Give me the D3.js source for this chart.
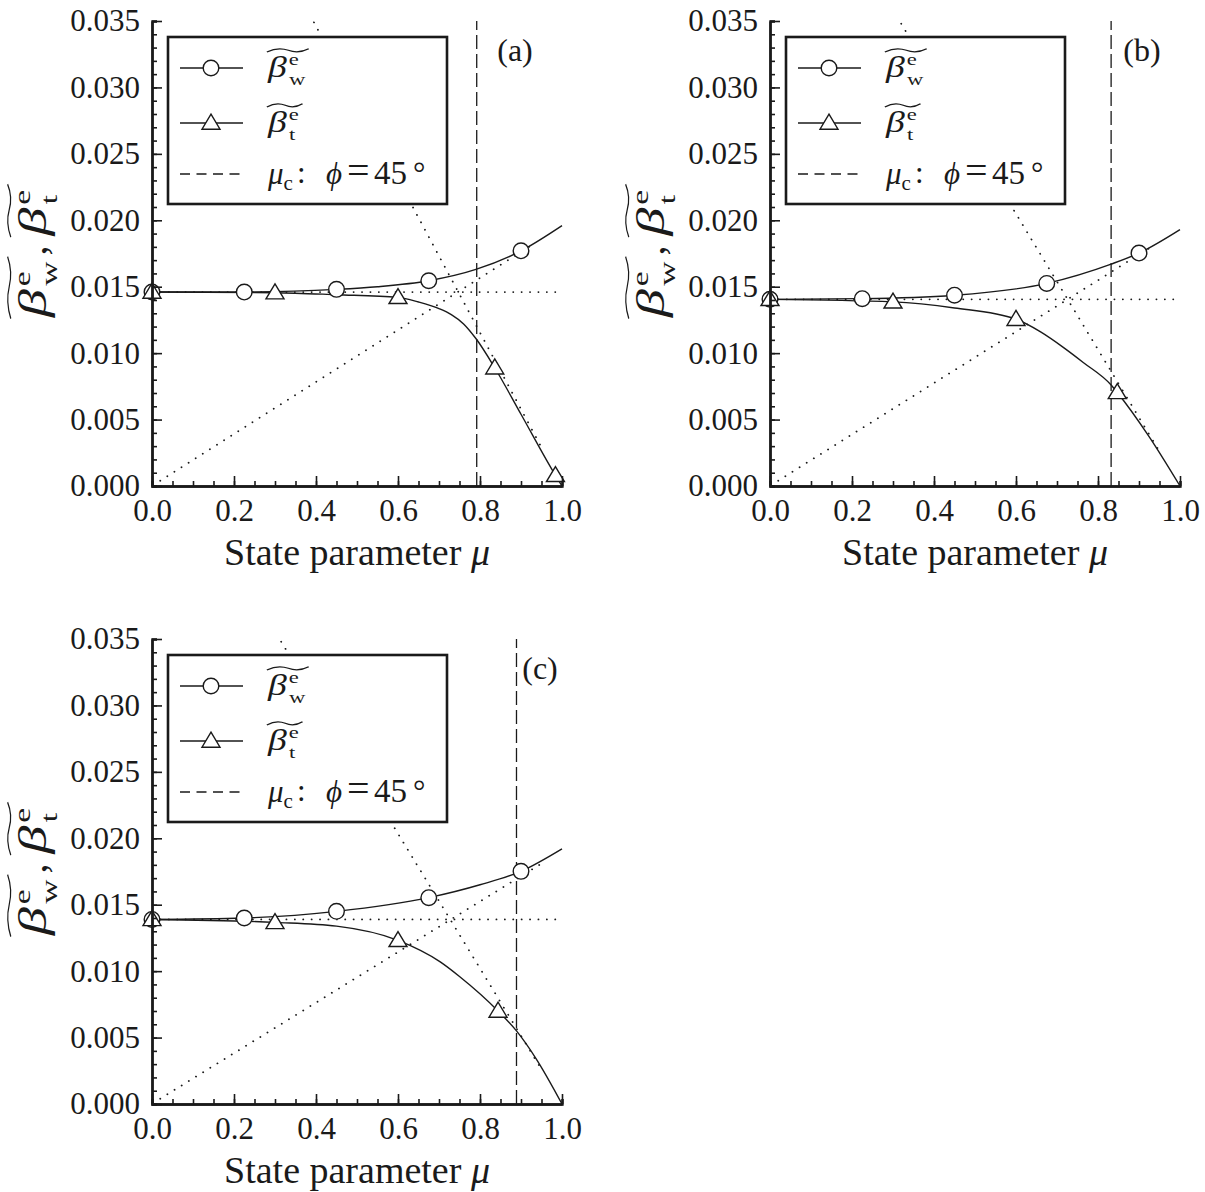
<!DOCTYPE html>
<html><head><meta charset="utf-8">
<script src="https://cdn.jsdelivr.net/npm/d3@7"></script>
<style>body{margin:0;background:#fff}</style>
</head><body>
<svg id="chart" width="1205" height="1192" xmlns="http://www.w3.org/2000/svg"></svg>
<script>
// ---------------- data ----------------
const panelLabels = ["(a)", "(b)", "(c)"];
const xTicks = [0, 0.2, 0.4, 0.6, 0.8, 1.0];
const yTicks = [0, 0.005, 0.010, 0.015, 0.020, 0.025, 0.030, 0.035];
const xTitle = "State parameter ";

const muCircle = [0, 0.225, 0.45, 0.675, 0.9];
const betaW_a = [0.0146, 0.0146, 0.0148, 0.01545, 0.0177];
const betaW_b = [0.01405, 0.0141, 0.01436, 0.01525, 0.01753];
const betaW_c = [0.01389, 0.0140, 0.0145, 0.01553, 0.01751];

const muTri_a = [0, 0.3, 0.6, 0.836, 0.984];
const betaT_a = [0.0146, 0.01455, 0.0142, 0.0089, 0.0008];
const muTri_b = [0, 0.3, 0.6, 0.847];
const betaT_b = [0.01405, 0.01386, 0.01255, 0.00704];
const muTri_c = [0, 0.3, 0.6, 0.844];
const betaT_c = [0.01389, 0.01367, 0.01232, 0.0070];

// smooth curves
const curveMuW_a = [0, 0.225, 0.45, 0.55, 0.675, 0.79, 0.9, 1.0];
const curveW_a   = [0.0146, 0.0146, 0.0148, 0.0150, 0.01545, 0.0163, 0.0177, 0.0196];
const curveMuW_b = [0, 0.225, 0.45, 0.675, 0.832, 0.9, 1.0];
const curveW_b   = [0.01405, 0.0141, 0.01436, 0.01525, 0.0167, 0.01753, 0.0193];
const curveMuW_c = [0, 0.225, 0.45, 0.675, 0.8, 0.9, 1.0];
const curveW_c   = [0.01389, 0.0140, 0.0145, 0.01553, 0.0165, 0.01751, 0.0192];

const curveMuT_a = [0, 0.3, 0.45, 0.6, 0.65, 0.7, 0.73, 0.76, 0.79, 0.836, 0.9, 0.984, 1.0];
const curveT_a   = [0.0146, 0.01455, 0.0144, 0.0142, 0.01385, 0.01335, 0.0129, 0.0122, 0.0111, 0.0089, 0.0054, 0.0008, 0.0];
const curveMuT_b = [0, 0.3, 0.45, 0.6, 0.66, 0.717, 0.764, 0.832, 0.847, 0.925, 1.0];
const curveT_b   = [0.01405, 0.01386, 0.0134, 0.01255, 0.0116, 0.0104, 0.0093, 0.0076, 0.00704, 0.0037, 0.0];
const curveMuT_c = [0, 0.3, 0.45, 0.6, 0.703, 0.75, 0.844, 0.889, 0.937, 1.0];
const curveT_c   = [0.01389, 0.01367, 0.01339, 0.01232, 0.0107, 0.0096, 0.0070, 0.0055, 0.0034, 0.0];

// dotted guide lines
const beta0 = [0.0146, 0.01405, 0.01389];
const riseLine_a = [[0.02, 0.0004], [0.93, 0.0182]];
const riseLine_b = [[0.02, 0.0004], [0.93, 0.0180]];
const riseLine_c = [[0.02, 0.0004], [0.95, 0.0181]];
const fallLine_a = [[0.395, 0.0349], [0.95, 0.0029]];
const fallLine_b = [[0.32, 0.0348], [0.95, 0.0026]];
const fallLine_c = [[0.315, 0.0348], [0.95, 0.0026]];
// critical state parameter (dashed)
const muC = [0.792, 0.832, 0.889];

// ---------------- drawing ----------------
const zip = (a, b) => a.map((v, i) => [v, b[i]]);
const panels = [
  {W: zip(muCircle, betaW_a), T: zip(muTri_a, betaT_a), cW: zip(curveMuW_a, curveW_a), cT: zip(curveMuT_a, curveT_a), rise: riseLine_a, fall: fallLine_a},
  {W: zip(muCircle, betaW_b), T: zip(muTri_b, betaT_b), cW: zip(curveMuW_b, curveW_b), cT: zip(curveMuT_b, curveT_b), rise: riseLine_b, fall: fallLine_b},
  {W: zip(muCircle, betaW_c), T: zip(muTri_c, betaT_c), cW: zip(curveMuW_c, curveW_c), cT: zip(curveMuT_c, curveT_c), rise: riseLine_c, fall: fallLine_c}
];
const layout = [
  {left: 152, bottom: 486, labelX: 515},
  {left: 770, bottom: 486, labelX: 1142},
  {left: 152, bottom: 1104, labelX: 540}
];
const PW = 410, PH = 465;
const FONT = "'Liberation Serif', 'Times New Roman', serif";
const INK = "#1a1a1a";

const svg = d3.select("#chart");

// beta with tilde, superscript e and subscript sub; baseline at (x,y); horizontally stretched by sx
function betaLabel(g, x, y, sub, fs, sx) {
  const gg = g.append("g").attr("transform", `translate(${x},${y}) scale(${sx},1)`);
  const t = gg.append("text").attr("x", 0).attr("y", 0)
    .attr("font-family", FONT).attr("font-size", fs).attr("fill", INK);
  t.append("tspan").attr("font-style", "italic").text("β");
  const bw = t.node().getComputedTextLength();
  const sfs = fs * 0.6;
  const ox = bw + fs * 0.05;
  t.append("tspan").attr("x", ox).attr("y", -fs * 0.41).attr("font-size", sfs).text("e");
  t.append("tspan").attr("x", ox + fs * 0.01).attr("y", fs * 0.28).attr("font-size", sfs).text(sub);
  const tw = ox + Math.max(sfs * 0.72 * (sub === "w" ? 1 : 0.62), sfs * 0.44) + fs * 0.1;
  const y0 = -fs * 0.92;
  gg.append("path")
    .attr("d", `M${-fs * 0.03},${y0 + 1.6} Q${tw * 0.25},${y0 - 3.6} ${tw * 0.5},${y0} T${tw},${y0 - 1.6}`)
    .attr("fill", "none").attr("stroke", INK).attr("stroke-width", 1.2);
  return tw * sx;
}

panels.forEach((p, i) => {
  const L = layout[i];
  const g = svg.append("g").attr("transform", `translate(${L.left},${L.bottom - PH})`);
  const x = d3.scaleLinear().domain([0, 1]).range([0, PW]);
  const y = d3.scaleLinear().domain([0, 0.035]).range([PH, 0]);

  // dotted guides
  const dotted = sel => sel.attr("fill", "none").attr("stroke", INK).attr("stroke-width", 1.8)
    .attr("stroke-linecap", "round").attr("stroke-dasharray", "0.1,8.3");
  const ln = d3.line().x(d => x(d[0])).y(d => y(d[1]));
  g.append("path").attr("d", ln([[0, beta0[i]], [1, beta0[i]]])).call(dotted);
  g.append("path").attr("d", ln(p.rise)).call(dotted);
  g.append("path").attr("d", ln(p.fall)).call(dotted);

  // dashed critical line
  g.append("path").attr("d", ln([[muC[i], 0], [muC[i], 0.035]]))
    .attr("stroke", INK).attr("stroke-width", 1.3).attr("stroke-dasharray", "14,5").attr("fill", "none");

  // curves
  const cl = d3.line().x(d => x(d[0])).y(d => y(d[1])).curve(d3.curveMonotoneX);
  g.append("path").attr("d", cl(p.cW)).attr("fill", "none").attr("stroke", INK).attr("stroke-width", 1.4);
  g.append("path").attr("d", cl(p.cT)).attr("fill", "none").attr("stroke", INK).attr("stroke-width", 1.4);

  // markers
  g.selectAll(".cw").data(p.W).join("circle")
    .attr("cx", d => x(d[0])).attr("cy", d => y(d[1])).attr("r", 7.8)
    .attr("fill", "#fff").attr("stroke", INK).attr("stroke-width", 1.4);
  const tri = "M0,-8.8L9,6.2L-9,6.2Z";
  g.selectAll(".tt").data(p.T).join("path")
    .attr("d", tri).attr("transform", d => `translate(${x(d[0])},${y(d[1])})`)
    .attr("fill", "#fff").attr("stroke", INK).attr("stroke-width", 1.4);

  // axes
  const styleAxis = ax => {
    ax.select(".domain").attr("stroke", INK).attr("stroke-width", 2.4);
    ax.selectAll(".tick line").attr("stroke", INK).attr("stroke-width", 1.6);
    ax.selectAll("text").attr("font-family", FONT).attr("font-size", 31).attr("fill", INK);
  };
  const gx = g.append("g").attr("transform", `translate(0,${PH})`);
  gx.append("g").call(d3.axisBottom(x).tickValues(d3.range(0, 1.0001, 0.05)).tickSize(-5).tickFormat("")).call(styleAxis);
  gx.append("g").call(d3.axisBottom(x).tickValues(xTicks).tickSizeInner(-10).tickSizeOuter(0).tickPadding(13).tickFormat(d3.format(".1f"))).call(styleAxis);
  const gy = g.append("g");
  gy.append("g").call(d3.axisLeft(y).tickValues(d3.range(0, 0.03501, 0.001)).tickSize(-5).tickFormat("")).call(styleAxis);
  gy.append("g").call(d3.axisLeft(y).tickValues(yTicks).tickSizeInner(-10).tickSizeOuter(0).tickPadding(12).tickFormat(d3.format(".3f"))).call(styleAxis);

  // x title
  const xt = g.append("text").attr("x", PW / 2).attr("y", PH + 79).attr("text-anchor", "middle")
    .attr("font-family", FONT).attr("font-size", 38).attr("fill", INK);
  xt.append("tspan").text(xTitle);
  xt.append("tspan").attr("font-style", "italic").text("μ");

  // y title (rotated)
  const yt = g.append("g").attr("transform", `translate(-106,${PH - 241}) rotate(-90)`);
  const u0 = -72;
  const w1 = betaLabel(yt, u0, 0, "w", 40, 1.4);
  yt.append("text").attr("x", u0 + w1 + 1).attr("y", 0).attr("font-family", FONT).attr("font-size", 40).attr("fill", INK).text(",");
  betaLabel(yt, u0 + w1 + 21, 0, "t", 40, 1.4);

  // legend
  const lg = g.append("g").attr("transform", `translate(16,${16})`);
  lg.append("rect").attr("x", 0).attr("y", 0).attr("width", 279).attr("height", 167)
    .attr("fill", "#fff").attr("stroke", INK).attr("stroke-width", 2.6);
  const rows = [31, 86, 137];
  lg.append("line").attr("x1", 12).attr("x2", 75).attr("y1", rows[0]).attr("y2", rows[0]).attr("stroke", INK).attr("stroke-width", 1.4);
  lg.append("circle").attr("cx", 43).attr("cy", rows[0]).attr("r", 7.8).attr("fill", "#fff").attr("stroke", INK).attr("stroke-width", 1.4);
  lg.append("line").attr("x1", 12).attr("x2", 75).attr("y1", rows[1]).attr("y2", rows[1]).attr("stroke", INK).attr("stroke-width", 1.4);
  lg.append("path").attr("d", tri).attr("transform", `translate(43,${rows[1]})`).attr("fill", "#fff").attr("stroke", INK).attr("stroke-width", 1.4);
  lg.append("line").attr("x1", 12).attr("x2", 72).attr("y1", rows[2]).attr("y2", rows[2]).attr("stroke", INK).attr("stroke-width", 1.4).attr("stroke-dasharray", "10,6.5");
  betaLabel(lg, 100, rows[0] + 9, "w", 29, 1.3);
  betaLabel(lg, 100, rows[1] + 9, "t", 29, 1.3);
  const t3 = rows[2] + 10;
  const l3 = lg.append("text").attr("x", 100).attr("y", t3).attr("font-family", FONT).attr("font-size", 31).attr("fill", INK);
  l3.append("tspan").attr("font-style", "italic").text("μ");
  l3.append("tspan").attr("font-size", 21).attr("dy", 6).text("c");
  l3.append("tspan").attr("x", 129).attr("dy", -7).text(":");
  l3.append("tspan").attr("x", 158).attr("dy", 1).attr("font-style", "italic").text("ϕ");
  l3.append("tspan").attr("x", 179).attr("font-size", 40).text("=");
  l3.append("tspan").attr("x", 206).attr("font-size", 33).text("45");
  l3.append("tspan").attr("x", 245).attr("font-size", 31).text("°");

  // panel label
  svg.append("text").attr("x", L.labelX).attr("y", L.bottom - PH + 40).attr("text-anchor", "middle")
    .attr("font-family", FONT).attr("font-size", 32).attr("fill", INK).text(panelLabels[i]);
});
</script>
</body></html>
